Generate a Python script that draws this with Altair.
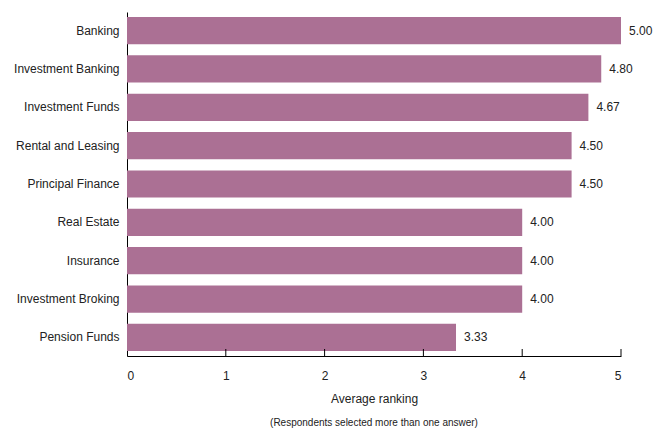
import altair as alt
import pandas as pd

categories = ["Banking", "Investment Banking", "Investment Funds", "Rental and Leasing",
              "Principal Finance", "Real Estate", "Insurance", "Investment Broking", "Pension Funds"]
values = [5.00, 4.80, 4.67, 4.50, 4.50, 4.00, 4.00, 4.00, 3.33]
tick_values = [1, 2, 3, 4, 5]
axis_labels = [0, 1, 2, 3, 4, 5]

df = pd.DataFrame({"category": categories, "value": values})
tdf = pd.DataFrame({"value": tick_values})

FONT = "Liberation Sans"
BAR = "#ab7094"
TXT = "#222222"
W, H = 494, 344

xscale = alt.Scale(domain=[0, 5], nice=False, zero=True)
xaxis = alt.Axis(values=axis_labels, tickSize=0, ticks=False, grid=False, domainColor="black",
                 domainWidth=1, labelFont=FONT, labelFontSize=12, labelColor=TXT, labelPadding=14,
                 title="Average ranking", titleFont=FONT, titleFontSize=12, titleFontWeight="normal",
                 titleColor=TXT, titlePadding=12, format="d")
yaxis = alt.Axis(title=None, ticks=False, grid=False, domainColor="black", domainWidth=1,
                 labelFont=FONT, labelFontSize=12, labelColor=TXT, labelPadding=8)
yenc = alt.Y("category:N", sort=categories, axis=yaxis,
             scale=alt.Scale(paddingInner=0.29, paddingOuter=0.13))

bars = alt.Chart(df).mark_bar(color=BAR).encode(
    y=yenc,
    x=alt.X("value:Q", scale=xscale, axis=xaxis),
)
labels = alt.Chart(df).mark_text(align="left", baseline="middle", dx=8, font=FONT,
                                 fontSize=12, color=TXT).encode(
    y=alt.Y("category:N", sort=categories),
    x=alt.X("value:Q"),
    text=alt.Text("value:Q", format=".2f"),
)
ticks = alt.Chart(tdf).mark_rule(color="black", strokeWidth=1).encode(
    x=alt.X("value:Q"),
    y=alt.value(H - 7),
    y2=alt.value(H),
)

chart = alt.layer(bars, labels, ticks).properties(
    width=W, height=H,
    autosize=alt.AutoSizeParams(type="none"),
    padding={"left": 119, "top": 4, "right": 39, "bottom": 74},
    title=alt.TitleParams(text="(Respondents selected more than one answer)", orient="bottom",
                          anchor="middle", font=FONT, fontSize=10, fontWeight="normal",
                          color=TXT, offset=14),
).configure_view(stroke=None)

chart.save("out.html", embed_options={"renderer": "svg", "actions": False})
